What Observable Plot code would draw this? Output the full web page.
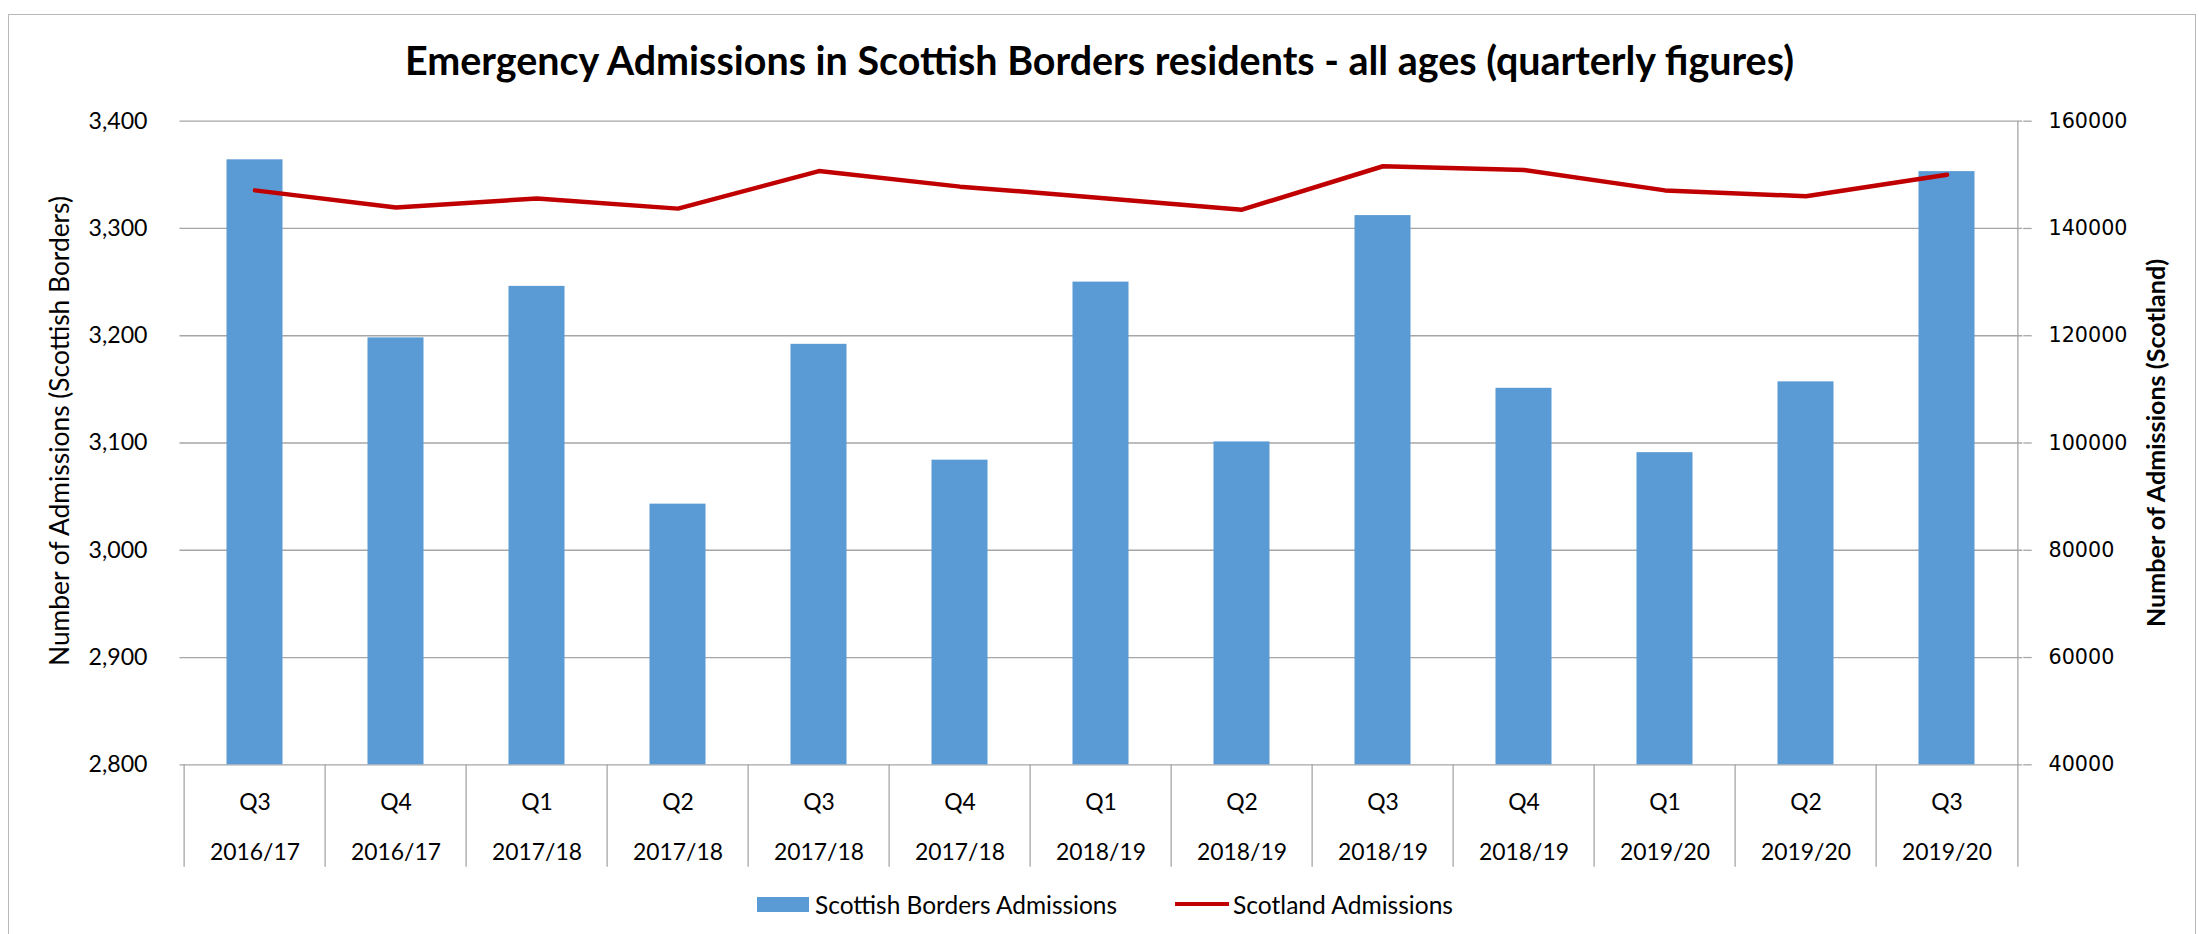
<!DOCTYPE html>
<html>
<head>
<meta charset="utf-8">
<script src="https://cdn.jsdelivr.net/npm/d3@7"></script>
<script src="https://cdn.jsdelivr.net/npm/@observablehq/plot@0.6"></script>
<style>
  html, body { margin: 0; padding: 0; background: #fff; }
  #wrap { position: relative; width: 2199px; height: 934px; overflow: hidden; font-family: Lato, sans-serif; color: #000; }
  #frame { position: absolute; left: 8px; top: 14px; width: 2188px; height: 960px; border: 1.5px solid #b8b8b8; box-sizing: border-box; pointer-events: none; z-index: 5; }
  #title { position: absolute; left: 0; width: 2199px; text-align: center; font-weight: 700; line-height: 1; white-space: nowrap; }
  #chart { position: absolute; left: 0; top: 100px; }
  #legend { position: absolute; left: 757px; top: 889px; height: 30px; display: flex; align-items: center; white-space: nowrap; }
  .sw-bar { width: 52px; height: 15px; background: #5B9BD5; margin-right: 6px; }
  .sw-line { width: 54px; height: 4.5px; background: #C00000; margin-left: 58px; margin-right: 4px; }
</style>
</head>
<body>
<div id="wrap">
  <div id="frame"></div>
  <div id="title">Emergency Admissions in Scottish Borders residents - all ages (quarterly figures)</div>
  <div id="chart"></div>
  <div id="legend">
    <div class="sw-bar"></div><span id="lg1">Scottish Borders Admissions</span>
    <div class="sw-line"></div><span id="lg2">Scotland Admissions</span>
  </div>
</div>
<script>
const quarters = ["Q3","Q4","Q1","Q2","Q3","Q4","Q1","Q2","Q3","Q4","Q1","Q2","Q3"];
const years = ["2016/17","2016/17","2017/18","2017/18","2017/18","2017/18","2018/19","2018/19","2018/19","2018/19","2019/20","2019/20","2019/20"];
const bordersAdmissions = [3364,3198,3246,3043,3192,3084,3250,3101,3312,3151,3091,3157,3353];
const scotlandAdmissions = [147100,143900,145600,143700,150700,147800,145700,143500,151600,150900,147100,146000,150000];
const leftTicks = [2800,2900,3000,3100,3200,3300,3400];
const rightTicks = [40000,60000,80000,100000,120000,140000,160000];

const titleText = "Emergency Admissions in Scottish Borders residents - all ages (quarterly figures)";
const leftTitle = "Number of Admissions (Scottish Borders)";
const rightTitle = "Number of Admissions (Scotland)";

const lMin = leftTicks[0], lMax = leftTicks[leftTicks.length - 1];
const rMin = rightTicks[0], rMax = rightTicks[rightTicks.length - 1];
const toLeft = v => lMin + (v - rMin) * (lMax - lMin) / (rMax - rMin);
const toRight = t => rMin + (t - lMin) * (rMax - rMin) / (lMax - lMin);

// font sizing to match the reference text widths
const ctx = document.createElement("canvas").getContext("2d");
function fitSize(text, weight, target, family = "Lato", base = 20) {
  ctx.font = `${weight} ${base}px ${family}`;
  return base * target / ctx.measureText(text).width;
}
const titleSize = fitSize(titleText, 700, 1393);
const t = document.getElementById("title");
t.style.fontSize = titleSize + "px";
t.style.top = (75 - 0.887 * titleSize) + "px";
document.getElementById("lg1").style.fontSize = fitSize("Scottish Borders Admissions", 400, 303) + "px";
document.getElementById("lg2").style.fontSize = fitSize("Scotland Admissions", 400, 221) + "px";
const leftTitleSize = fitSize(leftTitle, 400, 472);
const rightTitleSize = fitSize(rightTitle, 700, 370);
const leftTickSize = fitSize("3,400", 400, 59);
const xLabelSize = fitSize("2016/17", 400, 90);
const rightTickSize = fitSize("160000", 400, 79, "'DejaVu Sans'");

const rows = quarters.map((q, i) => ({i, q, year: years[i], borders: bordersAdmissions[i], scotland: scotlandAdmissions[i]}));

const W = 2199, H = 790;
const mL = 179.5, mR = 2199 - 2022.3, mT = 20.7, mB = 125.7;
const plotH = H - mT - mB;
const bw = (W - mL - mR) / quarters.length;
const grid = "#a6a6a6";
const sepDepth = 102.4;

const chart = Plot.plot({
  width: W,
  height: H,
  marginLeft: mL,
  marginRight: mR,
  marginTop: mT,
  marginBottom: mB,
  style: {background: "transparent", fontFamily: "Lato, sans-serif", color: "#000"},
  x: {type: "band", domain: d3.range(quarters.length), padding: 0},
  y: {domain: [lMin, lMax]},
  marks: [
    Plot.ruleY(leftTicks, {stroke: grid, strokeWidth: 1.3}),
    Plot.ruleX(d3.range(quarters.length), {dx: -bw / 2, insetTop: plotH, insetBottom: -sepDepth, stroke: grid, strokeWidth: 1.3}),
    Plot.ruleX([quarters.length - 1], {dx: bw / 2, insetBottom: -sepDepth, stroke: grid, strokeWidth: 1.3}),
    Plot.barY(rows, {x: "i", y1: lMin, y2: "borders", fill: "#5B9BD5", insetLeft: 42.5, insetRight: 42.5}),
    Plot.lineY(rows, {x: "i", y: d => toLeft(d.scotland), stroke: "#C00000", strokeWidth: 4.5, strokeLinejoin: "round", strokeLinecap: "round"}),
    Plot.axisY(leftTicks, {anchor: "left", tickSize: 0, tickPadding: 32.5, tickFormat: d3.format(","), fontSize: leftTickSize, label: null}),
    Plot.axisY(leftTicks, {anchor: "right", tickSize: 8.4, tickPadding: 17.3, stroke: grid, strokeWidth: 1.3, fill: "#000", tickFormat: v => String(Math.round(toRight(v))), fontSize: rightTickSize, fontFamily: "DejaVu Sans", label: null}),
    Plot.axisX({tickSize: 0, tickPadding: 37.4, lineAnchor: "middle", tickFormat: i => quarters[i], fontSize: xLabelSize, label: null}),
    Plot.axisX({tickSize: 0, tickPadding: 87.4, lineAnchor: "middle", tickFormat: i => years[i], fontSize: xLabelSize, label: null}),
    Plot.text([leftTitle], {frameAnchor: "left", textAnchor: "middle", lineAnchor: "middle", dx: -119.5, dy: -12, rotate: -90, fontSize: leftTitleSize, fill: "#000"}),
    Plot.text([rightTitle], {frameAnchor: "right", textAnchor: "middle", lineAnchor: "middle", dx: 134, rotate: -90, fontSize: rightTitleSize, fontWeight: "bold", fill: "#000"})
  ]
});
document.getElementById("chart").appendChild(chart);
</script>
</body>
</html>
